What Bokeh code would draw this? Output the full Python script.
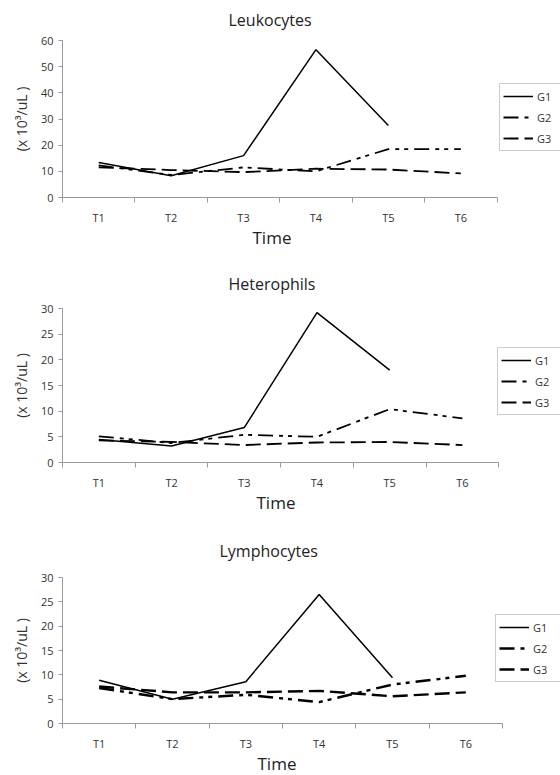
from bokeh.plotting import figure
from bokeh.layouts import column
from bokeh.models import Range1d, FixedTicker, Legend, LegendItem, Title
from bokeh.embed import file_html
from bokeh.resources import INLINE

nan = float("nan")

categories = ["T1", "T2", "T3", "T4", "T5", "T6"]
groups = ["G1", "G2", "G3"]

leuko_g1 = [13.4, 8.3, 16.0, 56.5, 27.5, nan]
leuko_g2 = [12.3, 8.6, 11.5, 10.0, 18.5, 18.5]
leuko_g3 = [11.5, 10.5, 9.7, 11.0, 10.7, 9.2]

hetero_g1 = [4.5, 3.2, 6.8, 29.2, 18.0, nan]
hetero_g2 = [5.1, 3.8, 5.4, 5.0, 10.4, 8.6]
hetero_g3 = [4.3, 4.0, 3.4, 3.9, 4.0, 3.4]

lympho_g1 = [8.9, 5.0, 8.6, 26.5, 9.4, nan]
lympho_g2 = [7.3, 5.0, 5.9, 4.4, 8.0, 9.8]
lympho_g3 = [7.6, 6.4, 6.4, 6.7, 5.6, 6.4]

FONT = "Open Sans"
AXIS_COLOR = "#9a9a9a"
TEXT_COLOR = "#333333"
FIG_W = 560


def make_panel(title, ymax, ystep, g1, g2, g3, height, b_top, b_bottom, b_left, axis_px,
               thick, title_offset, title_standoff, time_offset, legend_loc):
    n = len(categories)
    frame_w = FIG_W - b_left
    x_end = n * frame_w / axis_px
    p = figure(width=FIG_W, height=height, output_backend="svg", toolbar_location=None,
               x_range=Range1d(0, x_end), y_range=Range1d(0, ymax),
               min_border_top=b_top, min_border_bottom=b_bottom,
               min_border_left=b_left, min_border_right=0,
               background_fill_color="white", border_fill_color="white")
    p.outline_line_color = None
    p.xgrid.visible = False
    p.ygrid.visible = False

    p.title.text = title
    p.title.align = "left"
    p.title.vertical_align = "top"
    p.title.offset = title_offset
    p.title.standoff = title_standoff
    p.title.text_font = FONT
    p.title.text_font_size = "16px"
    p.title.text_font_style = "normal"
    p.title.text_color = "#222222"

    xs = [i + 0.5 for i in range(n)]

    # x axis: labels centred on categories, tick marks at category boundaries
    p.xaxis.bounds = (0, n)
    p.xaxis.ticker = FixedTicker(ticks=xs, minor_ticks=list(range(n + 1)))
    p.xaxis.major_label_overrides = {x: c for x, c in zip(xs, categories)}
    p.xaxis.major_tick_line_color = None
    p.xaxis.major_tick_out = 0
    p.xaxis.major_tick_in = 0
    p.xaxis.minor_tick_line_color = AXIS_COLOR
    p.xaxis.minor_tick_out = 5
    p.xaxis.minor_tick_in = 0
    p.xaxis.major_label_standoff = 7

    p.yaxis.ticker = FixedTicker(ticks=list(range(0, ymax + 1, ystep)))
    p.yaxis.major_tick_out = 4
    p.yaxis.major_tick_in = 0
    p.yaxis.minor_tick_line_color = None
    p.yaxis.major_tick_line_color = AXIS_COLOR
    p.yaxis.major_label_standoff = 5
    p.yaxis.axis_label = "(x 10\u00b3/uL )"
    p.yaxis.axis_label_standoff = 7
    p.yaxis.axis_label_text_font = FONT
    p.yaxis.axis_label_text_font_size = "14px"
    p.yaxis.axis_label_text_font_style = "normal"
    p.yaxis.axis_label_text_color = TEXT_COLOR

    for ax in (p.xaxis, p.yaxis):
        ax.axis_line_color = AXIS_COLOR
        ax.major_label_text_font = FONT
        ax.major_label_text_font_size = "11px"
        ax.major_label_text_color = TEXT_COLOR

    # x axis title, placed under the tick labels
    p.add_layout(Title(text="Time", align="left", vertical_align="top", offset=time_offset,
                       standoff=-3, text_font=FONT, text_font_size="17px",
                       text_font_style="normal", text_color="#222222"), "below")

    r1 = p.line(xs, g1, line_color="black", line_width=1.5)
    r2 = p.line(xs, g2, line_color="black", line_width=thick, line_dash="15 6 4 5 4 6")
    r3 = p.line(xs, g3, line_color="black", line_width=thick, line_dash="15 6")

    legend = Legend(items=[LegendItem(label=g, renderers=[r]) for g, r in zip(groups, [r1, r2, r3])],
                    location=legend_loc, orientation="vertical",
                    glyph_width=30, glyph_height=18, label_height=18, label_width=30,
                    spacing=3, padding=3, margin=0, label_standoff=4,
                    label_text_font=FONT, label_text_font_size="11px", label_text_color=TEXT_COLOR,
                    border_line_color=AXIS_COLOR, border_line_width=1,
                    background_fill_color="white", background_fill_alpha=1.0)
    p.add_layout(legend, "center")
    return p


p1 = make_panel("Leukocytes", 60, 10, leuko_g1, leuko_g2, leuko_g3,
                height=258, b_top=40, b_bottom=61, b_left=58, axis_px=438,
                thick=1.8, title_offset=166, title_standoff=16, time_offset=190,
                legend_loc=(437, 46))
p2 = make_panel("Heterophils", 30, 5, hetero_g1, hetero_g2, hetero_g3,
                height=256, b_top=50, b_bottom=51, b_left=60, axis_px=438,
                thick=1.8, title_offset=166, title_standoff=24, time_offset=194,
                legend_loc=(435, 47))
p3 = make_panel("Lymphocytes", 30, 5, lympho_g1, lympho_g2, lympho_g3,
                height=261, b_top=63, b_bottom=51, b_left=62, axis_px=440,
                thick=2.4, title_offset=157, title_standoff=27, time_offset=195,
                legend_loc=(433, 41))

layout = column(p1, p2, p3, spacing=0)
open("out.html", "w").write(file_html(layout, INLINE))
